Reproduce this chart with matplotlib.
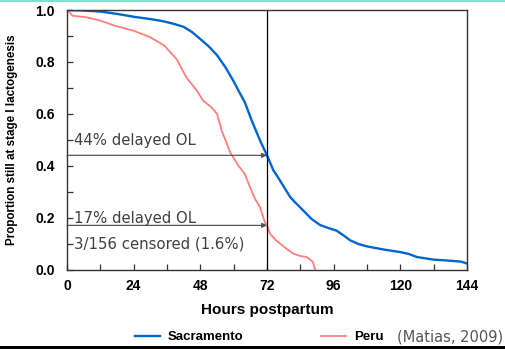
import matplotlib
matplotlib.use("Agg")
import matplotlib.pyplot as plt
from matplotlib.patches import Rectangle
import numpy as np

# Kaplan-Meier curves
sac_hours = [0, 6, 12, 18, 24, 30, 34, 38, 42, 45, 48, 51, 54, 57, 60, 62, 64, 66.5, 69.5, 72,
             74.3, 75.5, 78, 80.3, 82, 85, 88, 91, 94, 97, 100, 102, 105, 108, 111, 114, 117,
             120, 123, 126, 129, 132, 135, 139, 142, 144]
sac_surv = [1.0, 0.998, 0.994, 0.985, 0.974, 0.965, 0.958, 0.948, 0.935, 0.915, 0.888, 0.86,
            0.826, 0.78, 0.725, 0.684, 0.645, 0.574, 0.497, 0.44, 0.382, 0.363, 0.32, 0.28,
            0.26, 0.228, 0.195, 0.172, 0.16, 0.15, 0.128, 0.112, 0.098, 0.089, 0.083, 0.077,
            0.072, 0.067, 0.06, 0.048, 0.043, 0.038, 0.036, 0.033, 0.03, 0.023]
peru_hours = [0, 1, 2, 7, 12, 17, 24, 30, 35, 39.5, 43, 46.7, 49, 52, 54, 55.7, 57, 58.7, 60,
              61.7, 64, 65.9, 67.7, 69.5, 71.3, 72, 73.1, 75, 76.7, 79, 81.5, 84, 86.3, 88.5, 89.3]
peru_surv = [1.0, 0.99, 0.978, 0.972, 0.959, 0.94, 0.92, 0.895, 0.863, 0.81, 0.74, 0.69, 0.651,
             0.625, 0.60, 0.535, 0.50, 0.452, 0.43, 0.40, 0.368, 0.317, 0.272, 0.24, 0.18, 0.17,
             0.138, 0.115, 0.10, 0.08, 0.061, 0.052, 0.048, 0.03, 0.0]

cutoff = 72
sac_at_cut = 0.44
peru_at_cut = 0.17
notes = ["44% delayed OL", "17% delayed OL", "3/156 censored (1.6%)"]
note_y = [0.497, 0.196, 0.10]

BLUE = '#0066cc'
RED = '#ff7f7f'
bold = dict(family='Liberation Sans', weight='bold')

fig = plt.figure(figsize=(5.05, 3.49), dpi=100)
ax = fig.add_axes([67/505, 79.5/349, 400/505, 259.5/349])

l1, = ax.plot(sac_hours, sac_surv, color=BLUE, lw=1.7, label='Sacramento')
l2, = ax.plot(peru_hours, peru_surv, color=RED, lw=1.3, label='Peru')

ax.axvline(cutoff, color='black', lw=0.9)
for yv in [sac_at_cut, peru_at_cut]:
    ax.annotate('', xy=(cutoff, yv), xytext=(0, yv),
                arrowprops=dict(arrowstyle='-|>', color='#555555', lw=0.9,
                                mutation_scale=7, shrinkA=0, shrinkB=0))
for t, yv in zip(notes, note_y):
    ax.text(2.6, yv, t, fontsize=10.7, color='#404040', va='center', family='DejaVu Sans')

ax.set_xlim(0, 144)
ax.set_ylim(0, 1.0)
ax.set_xticks(np.arange(0, 145, 24))
ax.set_xticks(np.arange(0, 145, 12), minor=True)
ax.set_yticks(np.arange(0, 1.01, 0.2))
ax.set_yticks(np.arange(0, 1.01, 0.1), minor=True)
ax.tick_params(which='both', direction='in', length=4, width=0.9, top=False, right=False,
               color='#333333')
ax.tick_params(axis='x', pad=7)
ax.tick_params(axis='y', pad=9)
ax.set_xticklabels([str(v) for v in range(0, 145, 24)], fontdict=dict(bold, size=10))
ax.set_yticklabels([f'{v:.1f}' for v in np.arange(0, 1.01, 0.2)], fontdict=dict(bold, size=10))
for s in ax.spines.values():
    s.set_color('#333333')
    s.set_linewidth(1.0)

ax.set_xlabel('Hours postpartum', fontsize=11, labelpad=7, **bold)
ax.set_ylabel('Proportion still at stage I lactogenesis', fontsize=8.4, labelpad=12, **bold)

leg = fig.legend(handles=[l1, l2], loc='center left', bbox_to_anchor=(123/505, 1 - 337/349),
                 ncol=2, frameon=False, handlelength=1.9, handletextpad=0.6,
                 columnspacing=5.9, prop=dict(bold, size=9.5))
fig.text(397/505, 1 - 337/349, '(Matias, 2009)', fontsize=10.5, color='#555555',
         va='center', family='DejaVu Sans')

# frame decorations of the slide
fig.add_artist(Rectangle((0, 1 - 1.5/349), 1, 1.5/349, transform=fig.transFigure,
                         color='#80e0d0', lw=0))
fig.add_artist(Rectangle((0, 0), 1, 3/349, transform=fig.transFigure, color='black', lw=0))

fig.savefig('out.png', dpi=100)
